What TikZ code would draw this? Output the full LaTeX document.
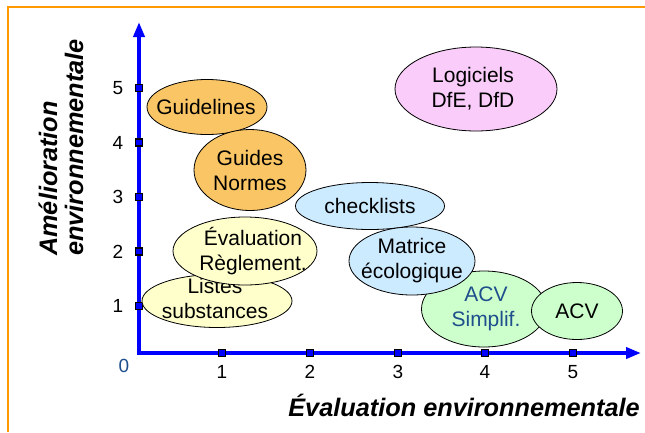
\documentclass[tikz,border=0pt]{standalone}
\usepackage{fontspec}
\setmainfont{Liberation Sans}
\usetikzlibrary{arrows.meta,shapes.geometric}
\definecolor{frameorange}{HTML}{FF9900}
\definecolor{axisblue}{HTML}{0000FF}
\definecolor{orangefill}{HTML}{FAC564}
\definecolor{yellowfill}{HTML}{FFFFCC}
\definecolor{bluefill}{HTML}{CCEBFF}
\definecolor{greenfill}{HTML}{CCFFCC}
\definecolor{pinkfill}{HTML}{FACCFA}
\definecolor{darkblue}{HTML}{1F4E8C}
\tikzset{
  blob/.style={ellipse, draw=black, line width=0.8pt, inner sep=0pt},
  blobtext/.style={inner sep=0pt, align=center, font=\fontsize{21}{25}\selectfont},
  axisline/.style={draw=axisblue, line width=4pt, line join=miter},
  tickmark/.style={draw=black, line width=1.2pt, fill=axisblue, minimum size=7pt, inner sep=0pt, rectangle},
  ticklabel/.style={font=\fontsize{19}{20}\selectfont, inner sep=0pt},
  axtitle/.style={font=\fontsize{25.3}{26}\selectfont\bfseries\itshape, inner sep=0pt, align=left},
}
\begin{document}
\begin{tikzpicture}[x=1pt,y=-1pt]
\useasboundingbox (0,0) rectangle (645,432);
\draw[frameorange, line width=1.2pt] (8,432) -- (8,7) -- (646,7);
% axes
\coordinate (O) at (139,353);
\coordinate (ytop) at (139,22);
\coordinate (xend) at (641,353);
\draw[axisline, {Triangle[length=15pt,width=11pt]}-{Triangle[length=15pt,width=11pt]}] (ytop) -- (O) -- (xend);
% y ticks
\foreach \v/\yy in {1/306,2/251.5,3/197,4/142.5,5/88}{
  \node[tickmark] (yt\v) at (139,\yy) {};
  \node[ticklabel] (yl\v) at (118,\yy) {\v};
}
% x ticks
\foreach \v/\xx in {1/222,2/310,3/398,4/485,5/573}{
  \node[tickmark] (xt\v) at (\xx,353) {};
  \node[ticklabel] (xl\v) at (\xx,372) {\v};
}
\node[ticklabel, text=darkblue] (zero) at (124,366) {0};
% axis titles
\node[axtitle, anchor=base west, rotate=90] (ytitle1) at (57,256) {Amélioration};
\node[axtitle, anchor=base west, rotate=90] (ytitle2) at (83,256) {environnementale};
\node[axtitle, anchor=base east] (xtitle) at (640,416) {Évaluation environnementale};
% ellipses
\node[blob, fill=pinkfill, minimum width=162pt, minimum height=84pt] (logi) at (476,89) {};
\node[blobtext] (logit) at (473,89) {Logiciels\\DfE, DfD};
\node[blob, fill=orangefill, minimum width=120pt, minimum height=55pt] (guidelines) at (207,107) {};
\node[blobtext] (guidelinest) at (206,107) {Guidelines};
\node[blob, fill=orangefill, minimum width=112pt, minimum height=81pt] (guides) at (250,170) {};
\node[blobtext] (guidest) at (250,170) {Guides\\Normes};
\node[blob, fill=bluefill, minimum width=149pt, minimum height=47pt] (check) at (370,206) {};
\node[blobtext] (checkt) at (370,206) {checklists};
\node[blob, fill=yellowfill, minimum width=150pt, minimum height=53pt] (listes) at (217,301) {};
\node[blobtext] (listest) at (215,298) {Listes\\substances};
\node[blob, fill=yellowfill, minimum width=144pt, minimum height=68pt] (eval) at (245,251) {};
\node[blobtext] (evalt) at (253,251) {Évaluation\\Règlement.};
\node[blob, fill=greenfill, minimum width=125pt, minimum height=76pt] (acvs) at (484,309) {};
\node[blobtext, text=darkblue] (acvst) at (486,309) {ACV\\Simplif.};
\node[blob, fill=bluefill, minimum width=126pt, minimum height=68pt] (matrice) at (412,261) {};
\node[blobtext] (matricet) at (412,261) {Matrice\\écologique};
\node[blob, fill=greenfill, minimum width=91pt, minimum height=57pt] (acv) at (577,311) {};
\node[blobtext] (acvt) at (577,311) {ACV};
\end{tikzpicture}
\end{document}
